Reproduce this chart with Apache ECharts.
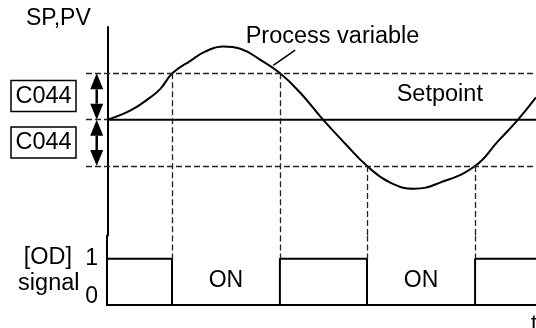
<!DOCTYPE html>
<html><head><meta charset="utf-8">
<script src="https://cdn.jsdelivr.net/npm/echarts@6/dist/echarts.min.js"></script>
<style>html,body{margin:0;padding:0;background:#fff}#c{width:536px;height:328px}</style>
</head><body><div id="c"></div>
<script>
// ---- data (time in arbitrary units 0..100; SP/PV in units of C044, setpoint = 0) ----
const pvTime  = [0, 5.4, 10.0, 12.4, 15.15, 19.35, 22.8, 27.0, 31.0, 35.7, 40.3, 45.0, 50.3, 55.5, 60.6, 66.0, 71.6, 77.6, 85.8, 91.1, 95.8, 100];
const pvValue = [0, 0.2, 0.48, 0.67, 1.0, 1.27, 1.47, 1.58, 1.53, 1.29, 1.0, 0.58, 0, -0.52, -1.0, -1.36, -1.49, -1.36, -1.0, -0.47, 0, 0.48];
const spTime  = [0, 100];
const spValue = [0, 0];
const bandLevels   = [1, -1];               // setpoint +/- C044
const switchTimes  = [15.15, 40.3, 60.6, 85.8];
const switchLevels = [1, 1, -1, -1];
const signalTime  = [0, 15.15, 40.3, 60.6, 85.8, 100];
const signalValue = [1, 0, 1, 0, 1, 1];
const onIntervals = [[15.15, 40.3], [60.6, 85.8]];
const signalTicks = [0, 1];
const bandLabel = 'C044';

const FONT = 'Liberation Sans, Arial, Helvetica, sans-serif';
const chart = echarts.init(document.getElementById('c'), null, {renderer: 'canvas'});

const dash = {color: '#222', width: 1.3, type: [6, 3]};
const upperMarks = [];
bandLevels.forEach(v => upperMarks.push([{coord: [-5, v], lineStyle: dash}, {coord: [100, v]}]));
upperMarks.push([{coord: [-5, 0], lineStyle: dash}, {coord: [0, 0]}]);
switchTimes.forEach((t, i) => upperMarks.push([{coord: [t, switchLevels[i]], lineStyle: dash}, {coord: [t, -2.5]}]));
// leader line of "Process variable"
upperMarks.push([{coord: [43.8, 1.5], lineStyle: {color: '#000', width: 1.5, type: 'solid'}}, {coord: [38.7, 1.17]}]);

const lowerMarks = switchTimes.map(t => [{coord: [t, 1.5]}, {coord: [t, 1]}]);

const txt = (o) => Object.assign({fill: '#000', font: '23.5px ' + FONT}, o);

chart.setOption({
  animation: false,
  backgroundColor: '#fff',
  grid: [
    {left: 86, right: 0, top: 27, height: 208.5},
    {left: 107, right: 0, top: 235.5, bottom: 23}
  ],
  xAxis: [
    {gridIndex: 0, type: 'value', min: -5, max: 100, show: false},
    {gridIndex: 1, type: 'value', min: 0, max: 100,
     axisLine: {lineStyle: {color: '#000', width: 2}}, axisTick: {show: false},
     axisLabel: {show: false}, splitLine: {show: false}}
  ],
  yAxis: [
    {gridIndex: 0, type: 'value', min: -2.5, max: 2,
     axisLine: {show: true, lineStyle: {color: '#000', width: 2}}, axisTick: {show: false},
     axisLabel: {show: false}, splitLine: {show: false}},
    {gridIndex: 1, type: 'value', min: 0, max: 1.5, interval: 1,
     axisLine: {show: true, onZero: false, lineStyle: {color: '#000', width: 2}}, axisTick: {show: false},
     splitLine: {show: false},
     axisLabel: {
       margin: 9, color: '#000', fontSize: 23, fontFamily: FONT,
       showMaxLabel: false,
       formatter: v => signalTicks.indexOf(v) < 0 ? '' : (v === 0 ? '{z|' + v + '}' : String(v)),
       rich: {z: {fontSize: 23, fontFamily: FONT, color: '#000', padding: [0, 0, 17, 0]}}
     }}
  ],
  series: [
    {
      type: 'line', xAxisIndex: 0, yAxisIndex: 0, smooth: 0.45, showSymbol: false, silent: true,
      data: pvTime.map((t, i) => [t, pvValue[i]]),
      lineStyle: {color: '#000', width: 2},
      markLine: {silent: true, symbol: 'none', label: {show: false}, data: upperMarks}
    },
    {
      type: 'line', xAxisIndex: 0, yAxisIndex: 0, showSymbol: false, silent: true,
      data: spTime.map((t, i) => [t, spValue[i]]),
      lineStyle: {color: '#000', width: 2}
    },
    {
      type: 'line', xAxisIndex: 1, yAxisIndex: 1, step: 'end', showSymbol: false, silent: true,
      data: signalTime.map((t, i) => [t, signalValue[i]]),
      lineStyle: {color: '#000', width: 2},
      markLine: {silent: true, symbol: 'none', label: {show: false}, lineStyle: dash, data: lowerMarks},
      markArea: {silent: true, itemStyle: {color: 'rgba(0,0,0,0)'},
        label: {show: true, position: 'inside', color: '#000', fontSize: 23, fontFamily: FONT},
        data: onIntervals.map(iv => [{coord: [iv[0], 0], name: 'ON'}, {coord: [iv[1], 1.03]}])}
    }
  ]
});

// double-headed arrows for the C044 band, positioned through the chart's own scales
const graphics = [
  {type: 'text', left: 26, top: 7, style: txt({text: 'SP,PV', font: '23px ' + FONT})},
  {type: 'text', x: 245.7, y: 36.7, style: txt({text: 'Process variable', verticalAlign: 'middle'})},
  {type: 'text', x: 396.7, y: 94.7, style: txt({text: 'Setpoint', verticalAlign: 'middle'})},
  {type: 'rect', shape: {x: 11, y: 80.5, width: 65, height: 31}, style: {fill: 'none', stroke: '#000', lineWidth: 1.5}},
  {type: 'text', x: 43.5, y: 96.5, style: txt({text: bandLabel, align: 'center', verticalAlign: 'middle'})},
  {type: 'rect', shape: {x: 11, y: 127, width: 65, height: 31}, style: {fill: 'none', stroke: '#000', lineWidth: 1.5}},
  {type: 'text', x: 43.5, y: 143, style: txt({text: bandLabel, align: 'center', verticalAlign: 'middle'})},
  {type: 'text', x: 72, y: 258, style: txt({text: '[OD]', align: 'right', verticalAlign: 'middle'})},
  {type: 'text', x: 79.5, y: 284, style: txt({text: 'signal', align: 'right', verticalAlign: 'middle'})},
  {type: 'text', x: 531, y: 313, style: txt({text: 't', verticalAlign: 'top', font: '22px ' + FONT})}
];
const HL = 16, HW = 13;
bandLevels.forEach(v => {
  const a = chart.convertToPixel({gridIndex: 0}, [-2.5, 0]);
  const b = chart.convertToPixel({gridIndex: 0}, [-2.5, v]);
  const dir = b[1] > a[1] ? 1 : -1;
  graphics.push({type: 'line', shape: {x1: a[0], y1: a[1] + dir * HL, x2: b[0], y2: b[1] - dir * HL},
                 style: {stroke: '#000', lineWidth: 2.5}});
  graphics.push({type: 'polygon', shape: {points: [[a[0], a[1]], [a[0] - HW / 2, a[1] + dir * HL], [a[0] + HW / 2, a[1] + dir * HL]]},
                 style: {fill: '#000'}});
  graphics.push({type: 'polygon', shape: {points: [[b[0], b[1]], [b[0] - HW / 2, b[1] - dir * HL], [b[0] + HW / 2, b[1] - dir * HL]]},
                 style: {fill: '#000'}});
});
chart.setOption({graphic: graphics});
</script></body></html>
